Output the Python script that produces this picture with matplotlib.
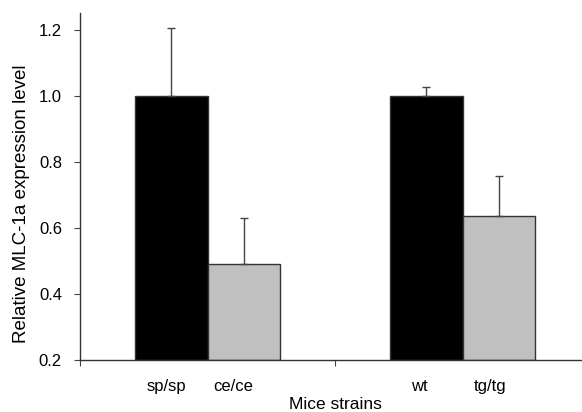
import matplotlib
matplotlib.use("Agg")
import matplotlib.pyplot as plt

categories = ["sp/sp", "ce/ce", "wt", "tg/tg"]
values = [1.0, 0.49, 1.0, 0.637]
errors = [0.205, 0.14, 0.028, 0.12]
colors = ["#000000", "#c0c0c0", "#000000", "#c0c0c0"]
positions = [0.357, 0.643, 1.357, 1.643]
label_positions = [0.34, 0.60, 1.33, 1.61]

plt.rcParams['font.family'] = ['Liberation Sans', 'DejaVu Sans']
fig = plt.figure(figsize=(5.82, 4.12), dpi=100)
ax = fig.add_axes([80/582, 1 - 360/412, 510/582, (360 - 13.5)/412])

w = 0.286
ax.bar(positions, [v - 0.2 for v in values], bottom=0.2, width=w, color=colors,
       edgecolor="#333333", linewidth=1.0, zorder=2)
ax.errorbar(positions, values, yerr=[[0]*4, errors], fmt="none", ecolor="#444444",
            elinewidth=1.0, capsize=3, capthick=1.0, zorder=3)

ax.set_xlim(0, 2)
ax.set_ylim(0.2, 1.25)
ax.set_yticks([0.2, 0.4, 0.6, 0.8, 1.0, 1.2])
ax.set_yticklabels(["0.2", "0.4", "0.6", "0.8", "1.0", "1.2"])
ax.set_xticks([0, 1, 2])
ax.set_xticklabels(["", "", ""])
ax.set_xticks(label_positions, minor=True)
ax.set_xticklabels(categories, minor=True)
ax.tick_params(axis="x", which="minor", length=0, pad=14, labelsize=12)
ax.tick_params(axis="x", which="major", length=4, direction="out", color="#444444")
ax.tick_params(axis="y", length=4, direction="out", pad=9, labelsize=12, color="#444444")

for s in ["top", "right"]:
    ax.spines[s].set_visible(False)
for s in ["left", "bottom"]:
    ax.spines[s].set_color("#333333")
    ax.spines[s].set_linewidth(1.0)

ax.set_xlabel("Mice strains", fontsize=12.5)
ax.xaxis.set_label_coords(0.5, -0.108)
ax.set_ylabel("Relative MLC-1a expression level", fontsize=13.5)
ax.yaxis.set_label_coords(-0.098, 0.45)

fig.savefig("out.png", dpi=100)
